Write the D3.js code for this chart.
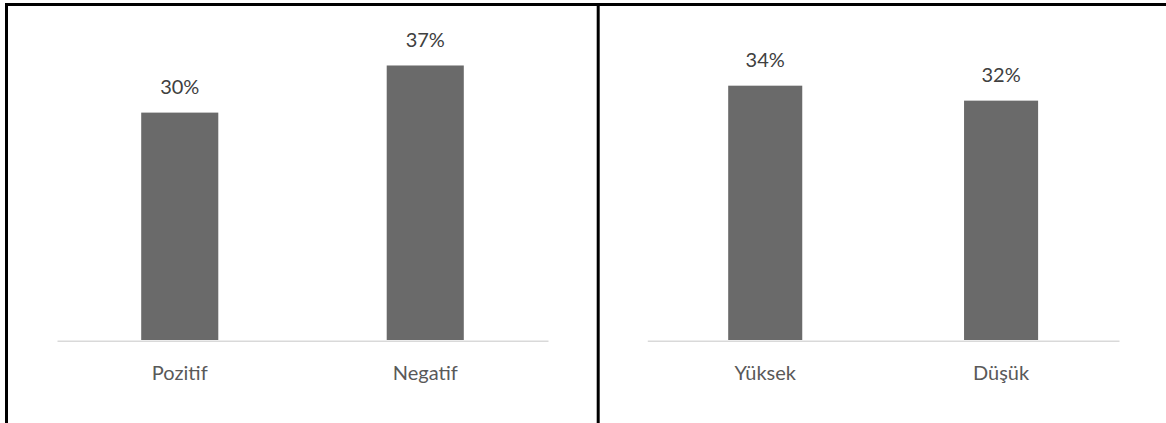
<!DOCTYPE html>
<html>
<head>
<meta charset="utf-8">
<script src="https://cdn.jsdelivr.net/npm/d3@7"></script>
<style>
	body { margin: 0; background: #fff; }
	svg { display: block; }
</style>
</head>
<body>
<div id="canvas"></div>
<script>
	// data
	var leftCategories = ["Pozitif", "Negatif"];
	var leftValues = [0.304, 0.367];
	var rightCategories = ["Yüksek", "Düşük"];
	var rightValues = [0.34, 0.32];

	var width = 1166;
	var height = 423;

	var svg = d3.select("#canvas")
		.append("svg")
		.attr("width", width)
		.attr("height", height);

	// y scale shared by both panels
	var y = d3.scaleLinear().domain([0, 0.4]).range([340, 40.8]);
	var fmt = d3.format(".0%");

	function drawPanel(categories, values, x0, x1) {
		var x = d3.scaleBand()
			.domain(categories)
			.range([x0, x1])
			.paddingInner(0.686)
			.paddingOuter(0.343);

		var g = svg.append("g");

		g.selectAll("rect")
			.data(values)
			.enter()
			.append("rect")
			.attr("x", function (d, i) { return x(categories[i]); })
			.attr("y", function (d) { return y(d); })
			.attr("width", x.bandwidth())
			.attr("height", function (d) { return y(0) - y(d); })
			.style("fill", "#6a6a6a");

		g.selectAll(".val")
			.data(values)
			.enter()
			.append("text")
			.attr("class", "val")
			.attr("x", function (d, i) { return x(categories[i]) + x.bandwidth() / 2; })
			.attr("y", function (d) { return y(d) - 18.5; })
			.attr("text-anchor", "middle")
			.style("font-family", "Lato, sans-serif")
			.style("font-size", "20px")
			.style("fill", "#404040")
			.text(function (d) { return fmt(d); });

		var axis = g.append("g")
			.attr("transform", "translate(0," + (y(0) + 0.8) + ")")
			.call(d3.axisBottom(x).tickSize(0).tickSizeOuter(0));
		axis.select(".domain")
			.style("stroke", "#d9d9d9")
			.style("stroke-width", 1.5);
		axis.selectAll("text")
			.attr("y", 39.5)
			.attr("dy", 0)
			.style("font-family", "Lato, sans-serif")
			.style("font-size", "20px")
			.style("fill", "#595959");
	}

	drawPanel(leftCategories, leftValues, 57, 548);
	drawPanel(rightCategories, rightValues, 647.3, 1119);

	// table borders around the two charts
	var border = svg.append("g")
		.style("stroke", "#000")
		.style("stroke-width", 3);
	border.append("line").attr("x1", 5).attr("x2", width).attr("y1", 4.5).attr("y2", 4.5);
	border.append("line").attr("x1", 6.5).attr("x2", 6.5).attr("y1", 3).attr("y2", height);
	border.append("line").attr("x1", 598.2).attr("x2", 598.2).attr("y1", 3).attr("y2", height);
</script>
</body>
</html>
